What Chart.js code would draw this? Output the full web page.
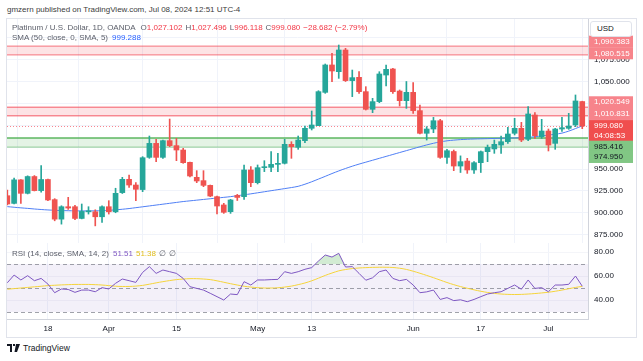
<!DOCTYPE html>
<html>
<head>
<meta charset="utf-8">
<script src="https://cdn.jsdelivr.net/npm/chart.js@4.4.1/dist/chart.umd.min.js"></script>
<style>
  html, body { margin: 0; padding: 0; background: #fff; }
  body { width: 643px; height: 361px; position: relative; overflow: hidden; font-family: "Liberation Sans", Arial, sans-serif; color: #131722; }
  .abs { position: absolute; white-space: nowrap; line-height: 10px; }
  #pub { left: 7px; top: 5px; font-size: 8px; color: #3c3c3c; }
  #frame { position: absolute; left: 6px; top: 18px; width: 631px; height: 320px; border: 1px solid #e0e3eb; box-sizing: border-box; }
  canvas { position: absolute; }
  #main { left: 7px; top: 19px; }
  #rsi { left: 7px; top: 243px; }
  .leg { font-size: 8px; color: #5d606b; }
  .leg span { margin-left: 3px; }
  .red { color: #f23645; }
  .blue { color: #2962ff; }
  .purple { color: #7e57c2; }
  .yellow { color: #e0bd1c; }
  #usd { left: 590px; top: 21px; width: 42px; height: 16px; border: 1px solid #e0e3eb; border-radius: 3px; background: #fff; box-sizing: border-box; font-size: 8px; line-height: 14px; padding-left: 6px; color: #131722; }
  #tv { left: 7px; top: 343px; font-size: 8.5px; color: #131722; display: flex; align-items: center; }
</style>
</head>
<body>
<div id="pub" class="abs">gmzern published on TradingView.com, Jul 08, 2024 12:51 UTC-4</div>
<div id="frame"></div>
<canvas id="main" width="629" height="224"></canvas>
<canvas id="rsi" width="629" height="94"></canvas>
<div id="leg1" class="abs leg" style="left:12px; top:23px;"></div>
<div id="leg2" class="abs leg" style="left:12px; top:33px;"></div>
<div id="leg3" class="abs leg" style="left:12px; top:249px;"></div>
<div id="usd" class="abs">USD</div>
<div id="tv" class="abs"><svg width="13" height="8" viewBox="0 0 13 8"><path d="M0 0h5v8H3V2H0z M6 0h2v2H6z M9 0h4l-3 8H7.5z" fill="#131722"/></svg><span style="margin-left:3px">TradingView</span></div>
<script>
// daily candles, OANDA XPTUSD (Good Friday closed)
const dates = [
  '2024-03-08','2024-03-11','2024-03-12','2024-03-13','2024-03-14','2024-03-15',
  '2024-03-18','2024-03-19','2024-03-20','2024-03-21','2024-03-22',
  '2024-03-25','2024-03-26','2024-03-27','2024-03-28',
  '2024-04-01','2024-04-02','2024-04-03','2024-04-04','2024-04-05',
  '2024-04-08','2024-04-09','2024-04-10','2024-04-11','2024-04-12',
  '2024-04-15','2024-04-16','2024-04-17','2024-04-18','2024-04-19',
  '2024-04-22','2024-04-23','2024-04-24','2024-04-25','2024-04-26',
  '2024-04-29','2024-04-30','2024-05-01','2024-05-02','2024-05-03',
  '2024-05-06','2024-05-07','2024-05-08','2024-05-09','2024-05-10',
  '2024-05-13','2024-05-14','2024-05-15','2024-05-16','2024-05-17',
  '2024-05-20','2024-05-21','2024-05-22','2024-05-23','2024-05-24',
  '2024-05-27','2024-05-28','2024-05-29','2024-05-30','2024-05-31',
  '2024-06-03','2024-06-04','2024-06-05','2024-06-06','2024-06-07',
  '2024-06-10','2024-06-11','2024-06-12','2024-06-13','2024-06-14',
  '2024-06-17','2024-06-18','2024-06-19','2024-06-20','2024-06-21',
  '2024-06-24','2024-06-25','2024-06-26','2024-06-27','2024-06-28',
  '2024-07-01','2024-07-02','2024-07-03','2024-07-04','2024-07-05',
  '2024-07-08'
];
const open = [
  919.5, 910.7, 937.6, 922.2, 941.4, 925.3, 938.0, 915.0, 892.7, 906.9,
  906.9, 893.5, 901.1, 901.1, 895.4, 906.9, 901.1, 923.0, 938.2, 931.7,
  926.5, 963.3, 979.3, 963.3, 982.4, 976.7, 971.7, 957.6, 940.5, 936.7,
  931.3, 918.4, 908.9, 901.2, 919.8, 918.4, 948.9, 934.4, 951.5, 951.9,
  955.3, 956.5, 978.2, 974.8, 982.4, 996.5, 999.5, 1037.6, 1068.9, 1061.2,
  1086.0, 1051.0, 1054.8, 1038.4, 1018.2, 1027.0, 1057.4, 1064.3, 1039.1, 1028.1,
  1037.6, 1016.7, 990.8, 995.7, 1005.2, 963.3, 970.0, 953.4, 959.1, 948.9,
  957.2, 969.8, 972.9, 977.4, 981.2, 990.8, 996.5, 983.9, 1011.7, 986.9,
  993.4, 979.3, 995.7, 996.5, 1000.3, 1027.102
];
const high = [
  926.0, 939.5, 938.0, 942.2, 942.5, 954.0, 938.5, 916.1, 908.0, 917.6,
  908.4, 910.0, 906.9, 903.4, 908.0, 913.8, 928.0, 940.5, 943.1, 934.4,
  964.1, 987.7, 983.9, 983.1, 1007.1, 985.0, 973.6, 958.0, 948.1, 948.1,
  931.7, 919.1, 910.8, 915.3, 921.0, 954.6, 952.7, 954.6, 959.5, 969.8,
  967.9, 983.9, 981.2, 987.7, 999.1, 1016.3, 1039.5, 1070.0, 1082.2, 1091.7,
  1087.9, 1063.1, 1061.2, 1044.1, 1030.8, 1061.2, 1068.9, 1065.0, 1040.3, 1050.0,
  1048.7, 1023.1, 998.4, 1009.0, 1006.8, 972.5, 971.7, 965.0, 962.2, 958.4,
  970.6, 977.4, 983.1, 987.7, 997.6, 1007.9, 1003.3, 1021.2, 1014.4, 1006.8,
  995.7, 996.5, 1009.0, 1013.6, 1034.6, 1027.496
];
const low = [
  909.0, 910.0, 910.7, 921.5, 924.9, 923.4, 913.8, 890.8, 887.0, 903.8,
  892.0, 893.0, 898.5, 885.0, 888.9, 898.5, 900.0, 922.0, 929.0, 913.8,
  924.1, 962.2, 958.4, 962.2, 975.5, 959.5, 956.5, 940.9, 934.4, 929.8,
  918.4, 898.6, 899.3, 899.3, 914.0, 915.3, 929.8, 932.9, 947.0, 947.0,
  947.0, 955.7, 962.2, 972.5, 980.1, 994.6, 999.5, 1036.5, 1049.8, 1053.6,
  1050.0, 1032.7, 1036.5, 1017.4, 1014.4, 1025.8, 1044.9, 1036.5, 1022.0, 1019.3,
  1013.6, 990.0, 983.1, 991.5, 962.2, 956.5, 948.1, 946.0, 945.0, 945.0,
  946.0, 958.4, 967.9, 967.9, 979.3, 988.9, 981.2, 982.4, 985.0, 985.0,
  970.6, 972.5, 993.0, 995.3, 998.4, 996.118
];
const close = [
  910.0, 937.6, 922.2, 941.4, 925.3, 938.0, 914.6, 892.7, 906.9, 905.4,
  893.5, 901.5, 901.6, 895.4, 906.9, 901.1, 922.2, 938.2, 931.7, 926.8,
  962.9, 979.3, 963.3, 982.4, 976.7, 971.7, 957.2, 942.0, 936.3, 931.3,
  919.1, 907.7, 900.5, 914.6, 917.5, 948.9, 934.4, 951.5, 951.9, 955.3,
  956.5, 978.2, 975.5, 983.1, 996.5, 1000.3, 1038.4, 1068.9, 1062.0, 1086.0,
  1051.0, 1054.4, 1038.4, 1018.2, 1027.0, 1058.6, 1063.9, 1038.4, 1028.1, 1037.6,
  1016.7, 990.8, 995.7, 1005.2, 963.3, 970.9, 953.4, 958.4, 948.9, 957.2,
  969.8, 974.8, 978.2, 981.2, 990.0, 996.5, 983.1, 1012.9, 988.1, 993.4,
  977.4, 995.7, 997.2, 999.1, 1027.762, 999.080
];
const sma50 = [
  907.0, 906.3, 905.6, 905.0, 904.3, 903.7, 903.2, 902.8, 902.5, 902.3,
  902.2, 902.1, 902.1, 902.2, 902.4, 902.8, 903.3, 904.0, 904.8, 905.8,
  906.8, 907.8, 908.8, 909.8, 910.8, 911.8, 912.8, 913.6, 914.4, 915.2,
  916.0, 916.8, 917.6, 918.4, 919.5, 920.5, 921.6, 922.8, 924.0, 925.2,
  926.4, 927.6, 928.8, 930.2, 932.6, 935.4, 938.5, 941.6, 944.8, 947.8,
  950.6, 953.2, 955.6, 957.8, 960.0, 962.2, 964.4, 966.6, 968.8, 971.0,
  973.2, 975.4, 977.5, 979.4, 981.0, 982.2, 983.0, 983.6, 984.0, 984.3,
  984.5, 984.7, 984.9, 985.1, 985.3, 985.5, 985.8, 986.2, 986.9, 987.8,
  988.8, 989.8, 991.0, 993.3, 996.2, 999.288
];
const rsi14 = [
  54.4, 60.8, 56.7, 60.3, 56.1, 58.0, 53.3, 46.1, 49.2, 48.8,
  46.4, 48.3, 48.3, 46.9, 50.3, 49.2, 53.9, 57.5, 56.1, 54.7,
  63.0, 67.8, 62.2, 65.0, 63.6, 62.2, 58.0, 51.1, 49.7, 48.3,
  45.6, 42.8, 40.0, 45.0, 44.5, 55.3, 52.5, 56.7, 56.7, 57.0,
  57.2, 63.6, 62.2, 63.6, 65.6, 67.0, 72.5, 77.5, 75.8, 78.9,
  67.5, 67.8, 62.2, 56.5, 58.5, 63.6, 65.0, 58.0, 56.1, 57.2,
  52.5, 46.1, 46.8, 48.3, 40.5, 42.0, 39.5, 40.2, 38.6, 40.5,
  42.8, 45.0, 46.1, 46.9, 49.7, 52.5, 49.0, 56.7, 49.7, 50.3,
  46.9, 52.5, 52.5, 53.1, 60.0, 51.51
];
const rsiMa = [
  49.0, 49.5, 50.0, 50.5, 51.0, 51.5, 52.0, 52.3, 52.6, 52.8,
  53.0, 53.0, 53.0, 52.8, 52.5, 52.0, 51.5, 51.3, 51.3, 51.6,
  52.2, 53.2, 54.3, 55.3, 56.2, 57.0, 57.5, 57.8, 57.8, 57.5,
  57.0, 56.0, 54.8, 53.6, 52.5, 51.5, 50.8, 50.3, 50.0, 50.0,
  50.2, 50.8, 51.6, 52.8, 54.2, 56.0, 58.2, 60.5, 62.5, 64.3,
  65.4, 66.2, 66.7, 67.0, 67.2, 67.3, 67.3, 67.1, 66.5, 65.5,
  64.0, 62.3, 60.5, 58.6, 56.6, 54.6, 52.8, 51.2, 49.8, 48.5,
  47.3, 46.3, 45.5, 45.0, 44.7, 44.6, 44.7, 45.0, 45.4, 45.9,
  46.5, 47.3, 48.3, 49.4, 50.5, 51.38
];
const tickDates = ['2024-03-18','2024-04-01','2024-04-15','2024-05-01','2024-05-13','2024-06-03','2024-06-17','2024-07-01'];
const tickText = ['18','Apr','15','May','13','Jun','17','Jul'];
const priceTicks = [875, 900, 925, 950, 975, 1000, 1025, 1050, 1075, 1100];
const rsiTicks = [40, 60, 80];
const resistanceZones = [[1080.515, 1090.383], [1010.831, 1020.549]];
const supportZone = [974.950, 985.416];
const countdown = '04:08:53';

Chart.defaults.font.family = '"Liberation Sans", Arial, sans-serif';
const GREEN = '#26a69a', RED = '#ef5350';
const n = dates.length;
const last = n - 1;
const tickIdx = tickDates.map(d => dates.indexOf(d));
const fmt3 = v => v.toLocaleString('en-US', {minimumFractionDigits: 3, maximumFractionDigits: 3});
const candleColor = close.map((c, i) => c >= open[i] ? GREEN : RED);
const X_MIN = -0.05, X_MAX = 85.85;

// no label padding, so the pane edges stay where the picture has them
const noPad = (s, size) => {
  if (s.isHorizontal()) s.height = size; else s.width = size;
  s.paddingTop = 0; s.paddingBottom = 0; s.paddingLeft = 0; s.paddingRight = 0;
};

// legends
const chg = close[last] - close[last - 1];
document.getElementById('leg1').innerHTML =
  'Platinum / U.S. Dollar, 1D, OANDA' +
  '<span style="margin-left:5px">O<b class="red" style="font-weight:normal">' + fmt3(open[last]) + '</b></span>' +
  '<span>H<b class="red" style="font-weight:normal">' + fmt3(high[last]) + '</b></span>' +
  '<span>L<b class="red" style="font-weight:normal">' + fmt3(low[last]) + '</b></span>' +
  '<span>C<b class="red" style="font-weight:normal">' + fmt3(close[last]) + '</b></span>' +
  '<span class="red">\u2212' + fmt3(Math.abs(chg)) + ' (\u2212' + (Math.abs(chg) / close[last - 1] * 100).toFixed(2) + '%)</span>';
document.getElementById('leg2').innerHTML =
  'SMA (50, close, 0, SMA, 5)<span class="blue" style="margin-left:4px">' + fmt3(sma50[last]) + '</span>';
document.getElementById('leg3').innerHTML =
  'RSI (14, close, SMA, 14, 2)<span class="purple" style="margin-left:4px">' + rsi14[last].toFixed(2) +
  '</span><span class="yellow">' + rsiMa[last].toFixed(2) + '</span><span>\u2205</span><span>\u2205</span>';

const levelsPlugin = {
  id: 'levels',
  beforeDatasetsDraw(chart) {
    const {ctx, chartArea: a, scales: {y}} = chart;
    ctx.save();
    const band = (lo, hi, fill, lineTop, lineBot) => {
      const y1 = y.getPixelForValue(hi), y2 = y.getPixelForValue(lo);
      ctx.fillStyle = fill;
      ctx.fillRect(a.left, y1, a.right - a.left, y2 - y1);
      ctx.lineWidth = 1.3;
      ctx.strokeStyle = lineTop;
      ctx.beginPath(); ctx.moveTo(a.left, y1); ctx.lineTo(a.right, y1); ctx.stroke();
      ctx.strokeStyle = lineBot;
      ctx.beginPath(); ctx.moveTo(a.left, y2); ctx.lineTo(a.right, y2); ctx.stroke();
    };
    resistanceZones.forEach(z => band(z[0], z[1], 'rgba(242,54,69,0.14)', 'rgba(242,54,69,0.55)', 'rgba(242,54,69,0.55)'));
    band(supportZone[0], supportZone[1], 'rgba(76,175,80,0.15)', 'rgba(76,175,80,0.9)', 'rgba(76,175,80,0.45)');
    const yp = Math.round(y.getPixelForValue(close[last])) + 0.5;
    ctx.strokeStyle = 'rgba(242,54,69,0.6)';
    ctx.lineWidth = 1;
    ctx.setLineDash([1, 2]);
    ctx.beginPath(); ctx.moveTo(a.left, yp); ctx.lineTo(a.right, yp); ctx.stroke();
    ctx.restore();
  },
  afterDraw(chart) {
    const {ctx, chartArea: a, scales: {y}} = chart;
    const tag = (value, lines, bg, fg, dy) => {
      const h = lines.length > 1 ? 21 : 12;
      const yc = y.getPixelForValue(value) + dy;
      const top = lines.length > 1 ? yc - 6 : yc - h / 2;
      ctx.fillStyle = bg;
      ctx.fillRect(a.right + 1, top, 44, h);
      ctx.fillStyle = fg;
      ctx.font = '8px "Liberation Sans", Arial, sans-serif';
      ctx.textBaseline = 'middle';
      ctx.textAlign = 'left';
      lines.forEach((t, k) => ctx.fillText(t, a.right + 6, top + 6 + k * 10));
    };
    ctx.save();
    tag(resistanceZones[0][1], [fmt3(resistanceZones[0][1])], '#f7848b', '#fff', -4.5);
    tag(resistanceZones[0][0], [fmt3(resistanceZones[0][0])], '#f7848b', '#fff', -1.5);
    tag(resistanceZones[1][1], [fmt3(resistanceZones[1][1])], '#f7848b', '#fff', -5);
    tag(resistanceZones[1][0], [fmt3(resistanceZones[1][0])], '#f7848b', '#fff', -1.8);
    tag(close[last], [fmt3(close[last]), countdown], '#f04e4e', '#fff', 0);
    tag(supportZone[1], [fmt3(supportZone[1])], '#81c784', '#131722', 8.7);
    tag(supportZone[0], [fmt3(supportZone[0])], '#81c784', '#131722', 9.8);
    ctx.restore();
  }
};

new Chart(document.getElementById('main'), {
  type: 'bar',
  data: {
    datasets: [
      {
        data: dates.map((d, i) => ({x: i, y: [low[i], high[i]]})),
        backgroundColor: candleColor, barThickness: 1, grouped: false, minBarLength: 1, borderWidth: 0
      },
      {
        data: dates.map((d, i) => ({x: i, y: [Math.min(open[i], close[i]), Math.max(open[i], close[i])]})),
        backgroundColor: candleColor, barThickness: 5, grouped: false, minBarLength: 1, borderWidth: 0
      },
      {
        type: 'line',
        data: sma50.map((v, i) => ({x: i, y: v})),
        borderColor: '#4f7ff5', borderWidth: 1, pointRadius: 0, tension: 0.3
      }
    ]
  },
  options: {
    responsive: false, animation: false, events: [],
    layout: {padding: 0, autoPadding: false},
    plugins: {legend: {display: false}, tooltip: {enabled: false}},
    scales: {
      x: {
        type: 'linear', min: X_MIN, max: X_MAX, offset: false,
        afterBuildTicks: s => { s.ticks = tickIdx.map(v => ({value: v})); },
        afterFit: s => noPad(s, 0),
        ticks: {display: false},
        grid: {color: '#f0f3fa', drawTicks: false},
        border: {display: true, color: '#e0e3eb'}
      },
      y: {
        position: 'right', min: 865.43, max: 1121.43,
        afterBuildTicks: s => { s.ticks = priceTicks.map(v => ({value: v})); },
        afterFit: s => noPad(s, 48),
        ticks: {padding: 6, color: '#131722', font: {size: 8}, autoSkip: false, callback: v => fmt3(v)},
        grid: {color: '#f0f3fa', drawTicks: false},
        border: {display: true, color: '#d1d4dc'}
      }
    }
  },
  plugins: [levelsPlugin]
});

const rsiBands = {
  id: 'rsiBands',
  beforeDatasetsDraw(chart) {
    const {ctx, chartArea: a, scales: {y}} = chart;
    ctx.save();
    const y70 = y.getPixelForValue(70), y30 = y.getPixelForValue(30);
    ctx.fillStyle = 'rgba(126,87,194,0.09)';
    ctx.fillRect(a.left, y70, a.right - a.left, y30 - y70);
    ctx.strokeStyle = 'rgba(120,123,134,0.7)';
    ctx.lineWidth = 1;
    ctx.setLineDash([4, 3]);
    [70, 50, 30].forEach(v => {
      const yy = Math.round(y.getPixelForValue(v)) + 0.5;
      ctx.beginPath(); ctx.moveTo(a.left, yy); ctx.lineTo(a.right, yy); ctx.stroke();
    });
    ctx.restore();
  }
};

new Chart(document.getElementById('rsi'), {
  type: 'line',
  data: {
    datasets: [
      {
        data: rsi14.map((v, i) => ({x: i, y: v})),
        borderColor: '#7e57c2', borderWidth: 1, pointRadius: 0, tension: 0,
        fill: {target: {value: 70}, above: 'rgba(76,175,80,0.25)', below: 'rgba(0,0,0,0)'}
      },
      {
        data: rsiMa.map((v, i) => ({x: i, y: v})),
        borderColor: '#f5d43a', borderWidth: 1, pointRadius: 0, tension: 0.3, fill: false
      }
    ]
  },
  options: {
    responsive: false, animation: false, events: [],
    layout: {padding: 0, autoPadding: false},
    plugins: {legend: {display: false}, tooltip: {enabled: false}},
    scales: {
      x: {
        type: 'linear', min: X_MIN, max: X_MAX, offset: false,
        afterBuildTicks: s => { s.ticks = tickIdx.map(v => ({value: v})); },
        afterFit: s => noPad(s, 18),
        ticks: {color: '#131722', font: {size: 8}, padding: 5, maxRotation: 0, autoSkip: false,
                callback: v => tickText[tickIdx.indexOf(v)]},
        grid: {color: '#f0f3fa', drawTicks: false},
        border: {display: true, color: '#d1d4dc'}
      },
      y: {
        position: 'right', min: 24.2, max: 87.5,
        afterBuildTicks: s => { s.ticks = rsiTicks.map(v => ({value: v})); },
        afterFit: s => noPad(s, 48),
        ticks: {padding: 6, color: '#131722', font: {size: 8}, autoSkip: false, callback: v => v.toFixed(2)},
        grid: {color: '#f4f5f9', drawTicks: false},
        border: {display: true, color: '#d1d4dc'}
      }
    }
  },
  plugins: [rsiBands]
});
</script>
</body>
</html>
